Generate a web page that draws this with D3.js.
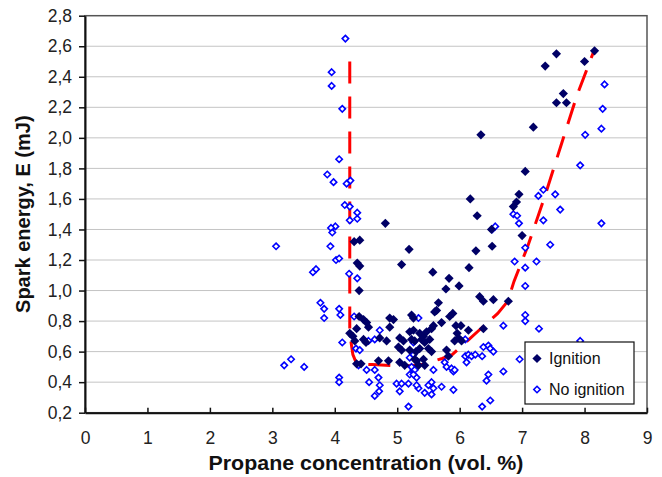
<!DOCTYPE html>
<html>
<head>
<meta charset="utf-8">
<script src="https://cdn.jsdelivr.net/npm/d3@7"></script>
<style>
  body { margin: 0; background: #fff; }
  text { font-family: "Liberation Sans", Arial, sans-serif; }
</style>
</head>
<body>
<div id="chart"></div>
<script>
// data: [propane vol.%, spark energy mJ]
const ignition = [
  [4.31,1.32],[4.40,1.33],[4.36,1.18],[4.40,1.16],[4.81,1.44],[5.07,1.17],[5.19,1.27],[4.39,1.00],
  [6.34,2.02],[6.17,1.60],[6.28,1.49],[6.51,1.40],[6.26,1.26],[6.52,1.29],[5.57,1.12],[6.15,1.15],
  [5.83,1.08],[5.78,1.01],[5.99,1.03],[6.32,0.96],[6.38,0.93],[6.54,0.94],[6.38,0.75],[6.78,0.93],
  [7.00,1.36],[6.86,1.55],[6.91,1.58],[6.95,1.63],[7.05,1.78],[7.18,2.07],[7.37,2.47],[7.55,2.55],
  [7.66,2.29],[7.55,2.23],[7.71,2.23],[8.00,2.50],[8.16,2.57],
  [4.39,0.83],[4.46,0.81],[4.51,0.79],[4.54,0.76],[4.35,0.75],[4.24,0.72],[4.29,0.70],[4.32,0.67],
  [4.46,0.68],[4.50,0.66],[4.35,0.52],[4.42,0.52],[4.70,0.54],[4.86,0.54],
  [4.88,0.82],[4.94,0.81],[4.88,0.76],[4.72,0.69],[4.83,0.67],[5.04,0.69],[5.10,0.67],[5.02,0.63],[5.07,0.61],
  [5.23,0.84],[5.26,0.82],[5.20,0.73],[5.26,0.74],[5.23,0.68],[5.28,0.67],[5.20,0.61],[5.30,0.60],
  [5.36,0.72],[5.42,0.70],[5.47,0.73],[5.55,0.75],[5.58,0.77],[5.52,0.68],[5.39,0.68],[5.44,0.66],
  [5.36,0.62],[5.50,0.62],[5.55,0.60],
  [5.66,0.92],[5.63,0.87],[5.60,0.86],[5.84,0.83],[5.89,0.85],[5.71,0.79],[5.94,0.77],[6.02,0.77],
  [6.14,0.74],[5.96,0.72],[5.98,0.69],[6.03,0.67],[5.92,0.67],[5.79,0.61],[5.82,0.57],
  [5.04,0.53],[5.12,0.51],[5.28,0.55],[5.34,0.51],[5.42,0.55],[5.44,0.51],[5.31,0.54]
];

const noIgnition = [
  [3.06,1.29],[3.19,0.51],[3.30,0.55],[3.51,0.50],[3.65,1.12],[3.70,1.14],[3.77,0.92],[3.83,0.88],[3.83,0.82],
  [3.95,2.43],[3.95,2.34],[4.17,2.65],[4.12,2.19],[4.07,1.86],[3.88,1.76],[3.98,1.71],[4.19,1.70],[4.25,1.72],
  [4.16,1.56],[4.24,1.55],[4.36,1.51],[4.36,1.47],[4.24,1.46],[4.01,1.42],[3.94,1.41],[3.96,1.38],[3.93,1.29],
  [4.02,1.20],[4.07,1.21],[4.23,1.11],[4.36,1.08],
  [4.07,0.88],[4.09,0.84],[4.31,0.83],[4.12,0.66],[4.07,0.43],[4.07,0.40],[4.34,0.62],[4.40,0.61],[4.38,0.51],
  [4.54,0.67],[4.64,0.68],[4.72,0.74],
  [4.51,0.48],[4.64,0.48],[4.55,0.40],[4.70,0.43],[4.72,0.38],[4.71,0.34],[4.64,0.31],
  [4.99,0.39],[5.07,0.39],[5.04,0.34],[5.18,0.39],[5.18,0.24],[5.20,0.45],[5.26,0.48],[5.31,0.43],[5.34,0.36],
  [5.34,0.82],[5.26,0.66],[5.26,0.58],[5.20,0.56],[5.23,0.50],[5.28,0.48],[5.26,0.45],
  [5.31,0.38],[5.50,0.38],[5.55,0.40],[5.58,0.36],[5.71,0.37],[5.55,0.32],[5.44,0.33],[5.90,0.35],
  [5.58,0.48],[5.76,0.53],[5.79,0.50],[5.87,0.49],[5.90,0.47],[5.92,0.48],
  [6.09,0.68],[6.09,0.57],[6.14,0.58],[6.19,0.57],[6.25,0.58],[6.11,0.53],[6.36,0.57],
  [6.38,0.63],[6.46,0.64],[6.49,0.62],[6.54,0.60],
  [6.46,0.45],[6.43,0.41],[6.49,0.28],[6.36,0.24],[6.70,0.47],[6.70,0.77],[6.96,0.55],
  [7.05,0.84],[7.05,0.80],[7.27,0.75],[7.93,0.67],
  [7.05,1.03],[7.05,1.15],[6.88,1.19],[7.23,1.19],[7.05,1.28],[7.45,1.30],
  [6.86,1.50],[6.92,1.49],[6.95,1.44],[7.34,1.46],[8.27,1.44],[6.52,1.40],[6.57,1.42],
  [7.34,1.66],[7.26,1.62],[7.53,1.63],[7.61,1.53],[7.93,1.82],[8.01,2.02],[8.27,2.06],[8.29,2.19],[8.32,2.35]
];

// hand drawn boundary curve (red dashes)
const boundary = [
  [4.24,2.50],[4.24,0.72],[4.29,0.58],[4.35,0.52],[4.60,0.515],[5.10,0.505],[5.40,0.515],[5.72,0.555],
  [5.88,0.58],[6.15,0.68],[6.31,0.74],[6.61,0.85],[6.77,0.93],[6.87,1.06],[7.09,1.29],[7.35,1.60],
  [7.63,1.96],[7.88,2.28],[8.16,2.58]
];

const xTicks = [0,1,2,3,4,5,6,7,8,9];
const yTicks = [0.2,0.4,0.6,0.8,1.0,1.2,1.4,1.6,1.8,2.0,2.2,2.4,2.6,2.8];

const W = 662, H = 477;
const margin = {top: 15.7, right: 15, bottom: 64.3, left: 85};

const svg = d3.select("#chart").append("svg")
  .attr("width", W).attr("height", H);

const x = d3.scaleLinear().domain([0, 9]).range([margin.left, W - margin.right]);
const y = d3.scaleLinear().domain([0.2, 2.8]).range([H - margin.bottom, margin.top]);

// comma decimal like the original
const fmt = d3.formatLocale({decimal: ",", thousands: ".", grouping: [3], currency: ["", ""]}).format(".1f");

// grid
svg.append("g").selectAll("line")
  .data(yTicks.slice(1, -1))
  .join("line")
  .attr("x1", x(0)).attr("x2", x(9))
  .attr("y1", d => y(d)).attr("y2", d => y(d))
  .attr("stroke", "#c4c4c4").attr("stroke-width", 1);

// frame top/right
svg.append("rect")
  .attr("x", x(0)).attr("y", y(2.8))
  .attr("width", x(9) - x(0)).attr("height", y(0.2) - y(2.8))
  .attr("fill", "none").attr("stroke", "#555").attr("stroke-width", 1.5);

// axes
const yAxis = svg.append("g")
  .attr("transform", `translate(${x(0)},0)`)
  .call(d3.axisLeft(y).tickValues(yTicks).tickFormat(fmt).tickSizeOuter(0).tickSizeInner(6).tickPadding(7));
const xAxis = svg.append("g")
  .attr("transform", `translate(0,${y(0.2)})`)
  .call(d3.axisBottom(x).tickValues(xTicks).tickFormat(d3.format("d")).tickSizeOuter(0).tickSizeInner(-5).tickPadding(19));

[xAxis, yAxis].forEach(a => {
  a.select(".domain").attr("stroke", "#111").attr("stroke-width", 2);
  a.selectAll(".tick line").attr("stroke", "#111").attr("stroke-width", 1.5);
  a.selectAll(".tick text").attr("font-size", 17.5).attr("fill", "#222")
    .style("font-family", "'Liberation Sans', Arial, sans-serif");
});

// boundary line
const line = d3.line().x(d => x(d[0])).y(d => y(d[1]));
svg.append("path")
  .datum(boundary)
  .attr("d", line)
  .attr("fill", "none")
  .attr("stroke", "#ff0000")
  .attr("stroke-width", 3)
  .attr("stroke-dasharray", "22,13");

function diamond(r) {
  return `M0,${-r}L${r},0L0,${r}L${-r},0Z`;
}

// no ignition: open blue diamonds
svg.append("g").selectAll("path")
  .data(noIgnition)
  .join("path")
  .attr("transform", d => `translate(${x(d[0])},${y(d[1])})`)
  .attr("d", diamond(3.2))
  .attr("fill", "#fff")
  .attr("stroke", "#0000ff")
  .attr("stroke-width", 1.6);

// ignition: filled navy diamonds
svg.append("g").selectAll("path")
  .data(ignition)
  .join("path")
  .attr("transform", d => `translate(${x(d[0])},${y(d[1])})`)
  .attr("d", diamond(4.6))
  .attr("fill", "#000066");

// legend
const lg = svg.append("g").attr("transform", "translate(525,342)");
lg.append("rect").attr("width", 109).attr("height", 62)
  .attr("fill", "#fff").attr("stroke", "#111").attr("stroke-width", 1.2);
lg.append("path").attr("transform", "translate(12,16.5)").attr("d", diamond(4.6)).attr("fill", "#000066");
lg.append("path").attr("transform", "translate(12,47.5)").attr("d", diamond(3.2))
  .attr("fill", "#fff").attr("stroke", "#0000ff").attr("stroke-width", 1.6);
lg.append("text").attr("x", 24).attr("y", 16.5).attr("dy", "0.35em").attr("font-size", 16).attr("fill", "#111").text("Ignition");
lg.append("text").attr("x", 24).attr("y", 47.5).attr("dy", "0.35em").attr("font-size", 16).attr("fill", "#111").text("No ignition");

// axis titles
svg.append("text")
  .attr("x", (x(0) + x(9)) / 2).attr("y", 470)
  .attr("text-anchor", "middle")
  .attr("font-size", 20).attr("font-weight", "bold").attr("fill", "#111")
  .attr("textLength", 315).attr("lengthAdjust", "spacingAndGlyphs")
  .text("Propane concentration (vol. %)");

svg.append("text")
  .attr("transform", `translate(30,${(y(0.2) + y(2.8)) / 2}) rotate(-90)`)
  .attr("text-anchor", "middle")
  .attr("font-size", 20).attr("font-weight", "bold").attr("fill", "#111")
  .text("Spark energy, E (mJ)");
</script>
</body>
</html>
